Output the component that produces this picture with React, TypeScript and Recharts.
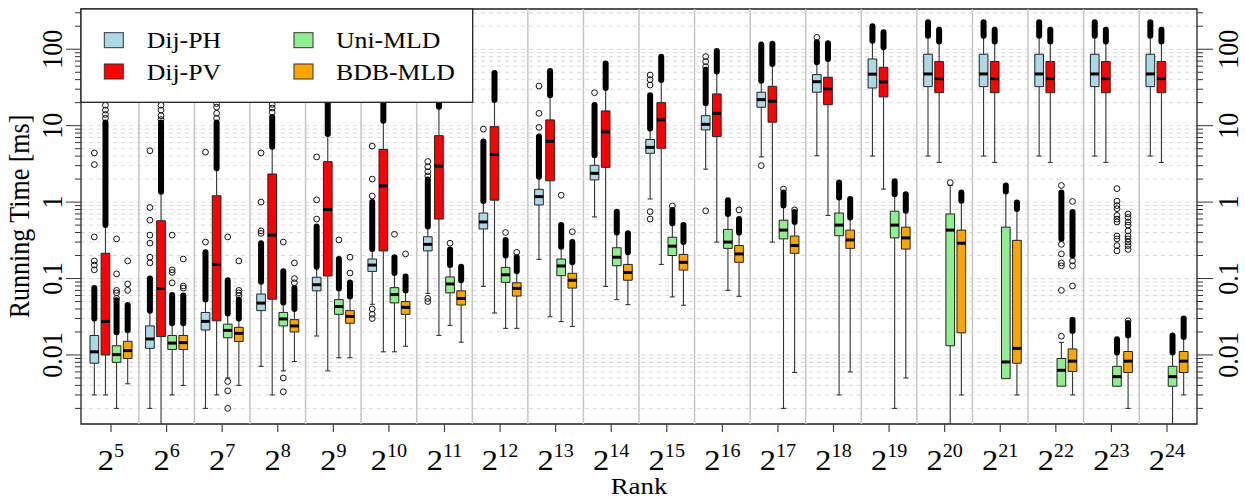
import React from 'react';
import { ComposedChart, XAxis, YAxis, CartesianGrid, ReferenceArea, ReferenceLine, Scatter } from 'recharts';

const RANKS = [5, 6, 7, 8, 9, 10, 11, 12, 13, 14, 15, 16, 17, 18, 19, 20, 21, 22, 23, 24];
const SERIES_NAMES = ['Dij-PH', 'Dij-PV', 'Uni-MLD', 'BDB-MLD'];
const SERIES_COLORS = ['#add8e6', '#ff0000', '#90ee90', '#ffa500'];

const Y_TICKS = [
  0.002, 0.003, 0.004, 0.005, 0.006, 0.007, 0.008, 0.009,
  0.01, 0.02, 0.03, 0.04, 0.05, 0.06, 0.07, 0.08, 0.09,
  0.1, 0.2, 0.3, 0.4, 0.5, 0.6, 0.7, 0.8, 0.9,
  1, 2, 3, 4, 5, 6, 7, 8, 9,
  10, 20, 30, 40, 50, 60, 70, 80, 90,
  100, 200, 300,
];
const Y_LABELS = [0.01, 0.1, 1, 10, 100];

// box stats per rank: [lower whisker, Q1, median, Q3, upper whisker] in ms
const DIJ_PH_STATS = [
  [0.003, 0.0078, 0.011, 0.018, 0.03], [0.002, 0.0122, 0.0162, 0.024, 0.038],
  [0.002, 0.0212, 0.0275, 0.036, 0.053], [0.0071, 0.038, 0.0477, 0.0627, 0.091],
  [0.0177, 0.069, 0.083, 0.104, 0.143], [0.046, 0.124, 0.15, 0.18, 0.243],
  [0.064, 0.23, 0.28, 0.352, 0.48], [0.079, 0.445, 0.55, 0.72, 1.03],
  [0.178, 0.916, 1.18, 1.47, 2.15], [0.64, 1.95, 2.38, 3.03, 4.1],
  [1.1, 4.35, 5.2, 6.6, 9.2], [2.7, 8.8, 10.4, 13.5, 19.6],
  [3.9, 17.4, 21.9, 27.4, 38.8], [4.04, 27.4, 37.6, 46.6, 67.6],
  [4.0, 31.1, 47.2, 74.6, 129], [4.0, 32.4, 47.5, 86, 150],
  [4.0, 32.4, 47.5, 86, 150], [4.0, 32.4, 47.5, 86, 150],
  [4.0, 32.4, 47.5, 86, 150], [4.0, 32.4, 47.5, 86, 150],
];
const DIJ_PV_STATS = [
  [0.003, 0.01, 0.0275, 0.214, 0.5], [0.0005, 0.0174, 0.074, 0.57, 1.37],
  [0.003, 0.028, 0.153, 1.21, 2.77], [0.003, 0.0537, 0.37, 2.33, 5.3],
  [0.0062, 0.108, 0.8, 3.38, 7.8], [0.011, 0.23, 1.63, 4.9, 11.6],
  [0.018, 0.6, 2.97, 7.4, 17.7], [0.0354, 1.06, 4.2, 9.7, 21.7],
  [0.0316, 1.9, 6.25, 11.9, 25], [0.079, 2.85, 8.3, 15.6, 31],
  [0.153, 5.06, 11.9, 20, 39.6], [0.3, 7.2, 14.5, 26, 51],
  [0.3, 11.1, 20.9, 32.7, 64], [0.67, 18.8, 30.3, 43, 74.6],
  [1.48, 23.8, 37.3, 58, 106], [3.3, 27, 41.2, 69, 126],
  [3.3, 27, 41.2, 69, 126], [3.3, 27, 41.2, 69, 126],
  [3.3, 27, 41.2, 69, 126], [3.3, 27, 41.2, 69, 126],
];
const UNI_MLD_STATS = [
  [0.002, 0.008, 0.0101, 0.0132, 0.0199], [0.003, 0.0118, 0.0143, 0.018, 0.026],
  [0.005, 0.0168, 0.021, 0.0253, 0.035], [0.0062, 0.024, 0.0296, 0.036, 0.0487],
  [0.0092, 0.034, 0.043, 0.053, 0.0743], [0.011, 0.048, 0.0617, 0.076, 0.118],
  [0.0244, 0.065, 0.085, 0.105, 0.15], [0.0223, 0.089, 0.112, 0.14, 0.2],
  [0.0273, 0.109, 0.146, 0.18, 0.26], [0.053, 0.147, 0.19, 0.253, 0.4],
  [0.0575, 0.2, 0.265, 0.347, 0.53], [0.07, 0.248, 0.3, 0.44, 0.7],
  [0.002, 0.33, 0.43, 0.58, 0.9], [0.003, 0.363, 0.5, 0.72, 1.15],
  [0.002, 0.34, 0.5, 0.76, 1.27], [0.0005, 0.0132, 0.43, 0.7, 1.65],
  [0.0049, 0.0049, 0.0081, 0.47, 1.38], [0.0039, 0.0039, 0.0063, 0.009, 0.0146],
  [0.0039, 0.0039, 0.0052, 0.0071, 0.0108], [0.0005, 0.0039, 0.0052, 0.0071, 0.0108],
];
const BDB_MLD_STATS = [
  [0.0042, 0.009, 0.0114, 0.0151, 0.021], [0.004, 0.0118, 0.0145, 0.018, 0.026],
  [0.004, 0.015, 0.0192, 0.023, 0.03], [0.0082, 0.02, 0.024, 0.029, 0.04],
  [0.0092, 0.026, 0.032, 0.038, 0.058], [0.013, 0.034, 0.042, 0.05, 0.07],
  [0.0147, 0.045, 0.0548, 0.069, 0.095], [0.0223, 0.059, 0.0744, 0.088, 0.125],
  [0.0236, 0.075, 0.095, 0.117, 0.163], [0.0455, 0.095, 0.12, 0.153, 0.22],
  [0.0447, 0.129, 0.163, 0.207, 0.3], [0.0585, 0.163, 0.21, 0.27, 0.4],
  [0.0059, 0.214, 0.27, 0.36, 0.55], [0.006, 0.248, 0.32, 0.43, 0.63],
  [0.005, 0.243, 0.34, 0.47, 0.77], [0.003, 0.0195, 0.29, 0.43, 1.04],
  [0.003, 0.0078, 0.0122, 0.316, 0.81], [0.003, 0.0061, 0.0083, 0.012, 0.0206],
  [0.002, 0.0059, 0.0083, 0.0111, 0.018], [0.003, 0.0059, 0.0083, 0.0111, 0.0172],
];

// bands where outlier circles overlap into a solid column: [from, to]
const DIJ_PH_RUNS = [
  [[0.03, 0.075]], [[0.038, 0.1]], [[0.053, 0.22]], [[0.091, 0.29]], [[0.143, 0.48]],
  [[0.243, 1.0]], [[0.48, 1.97]], [[1.03, 6.2]], [[2.15, 7.2]], [[4.1, 18.7]],
  [[9.2, 25]], [[19.6, 54]], [[38.8, 115]], [[67.6, 123]], [[129, 200]],
  [[150, 225]], [[150, 225]], [[150, 225]], [[150, 225]], [[150, 225]],
];
const DIJ_PV_RUNS = [
  [[0.5, 11]], [[1.37, 11]], [[2.77, 11]], [[5.3, 13]], [[7.8, 25]],
  [[11.6, 25]], [[17.7, 25]], [[21.7, 49]], [[25, 52]], [[31, 65]],
  [[39.6, 80]], [[51, 95]], [[64, 118]], [[74.6, 120]], [[106, 167]],
  [[126, 180]], [[126, 180]], [[126, 180]], [[126, 180]], [[126, 180]],
];
const UNI_MLD_RUNS = [
  [[0.0199, 0.052]], [[0.026, 0.061]], [[0.035, 0.095]], [[0.0487, 0.125]], [[0.0743, 0.18]],
  [[0.118, 0.19]], [[0.15, 0.24]], [[0.2, 0.32]], [[0.26, 0.5]], [[0.4, 0.75]],
  [[0.53, 0.79]], [[0.7, 1.06]], [[0.9, 1.34]], [[1.15, 1.8]], [[1.27, 1.88]],
  [], [[1.38, 1.65]], [[0.33, 1.34]], [[0.0108, 0.016]], [[0.0108, 0.018]],
];
const BDB_MLD_RUNS = [
  [[0.021, 0.045]], [[0.026, 0.06]], [[0.03, 0.053]], [[0.04, 0.075]], [[0.058, 0.089]],
  [[0.07, 0.106]], [[0.095, 0.143]], [[0.125, 0.19]], [[0.163, 0.3]], [[0.22, 0.39]],
  [[0.3, 0.5]], [[0.4, 0.6]], [[0.55, 0.74]], [[0.63, 1.1]], [[0.77, 1.27]],
  [[1.04, 1.34]], [[0.81, 0.99]], [[0.0206, 0.029], [0.2, 0.74]], [[0.018, 0.0262]], [[0.0172, 0.03]],
];

// single outliers drawn as open circles
const DIJ_PH_OUTLIERS = [
  [0.13, 0.15, 0.17, 0.35, 3.1, 4.4], [0.16, 0.19, 0.29, 0.37, 0.58, 0.85, 4.7],
  [0.3, 4.5], [0.39, 0.42, 1.0, 4.4], [0.6, 1.07, 3.9], [0.04, 0.034, 0.03, 1.2, 2.0, 5.4],
  [0.055, 0.05, 2.2, 2.5, 2.9, 3.4], [9.0], [9.5, 14.5, 33], [27],
  [0.75, 0.6, 34, 40, 46], [0.77, 59, 69, 80], [3.0], [143], [], [], [], [], [], [],
];
const DIJ_PV_OUTLIERS = [
  [12.5, 14, 16, 18.5], [12, 13.5, 16, 18.5], [12.5, 14.5, 17.5, 19.5], [15, 17, 19],
  [], [], [], [], [], [], [], [], [], [], [], [], [], [], [], [],
];
const UNI_MLD_OUTLIERS = [
  [0.055, 0.065, 0.07, 0.115, 0.33], [0.088, 0.12, 0.13, 0.37], [0.0045, 0.0034, 0.002, 0.35],
  [0.005, 0.0033, 0.3], [0.32], [0.38], [0.29], [0.4], [1.23], [], [0.89], [], [1.48],
  [], [], [1.8], [], [0.0176, 0.07, 0.147, 0.16, 0.21, 0.28, 1.65],
  [1.5, 1.03, 0.9, 0.82, 0.67, 0.6, 0.55, 0.36, 0.33, 0.27, 0.23], [],
];
const BDB_MLD_OUTLIERS = [
  [0.07, 0.085, 0.17], [0.075, 0.08, 0.18], [0.06, 0.065, 0.07, 0.17], [0.088, 0.1, 0.16],
  [0.118, 0.19], [0.21], [], [0.22], [0.41], [], [], [0.79], [0.79], [], [], [], [],
  [0.08, 0.147, 0.17, 1.02],
  [0.028, 0.7, 0.63, 0.55, 0.5, 0.42, 0.36, 0.33, 0.3, 0.27, 0.24], [],
];

const SERIES = [
  { stats: DIJ_PH_STATS, runs: DIJ_PH_RUNS, outliers: DIJ_PH_OUTLIERS, offset: -0.3 },
  { stats: DIJ_PV_STATS, runs: DIJ_PV_RUNS, outliers: DIJ_PV_OUTLIERS, offset: -0.1 },
  { stats: UNI_MLD_STATS, runs: UNI_MLD_RUNS, outliers: UNI_MLD_OUTLIERS, offset: 0.1 },
  { stats: BDB_MLD_STATS, runs: BDB_MLD_RUNS, outliers: BDB_MLD_OUTLIERS, offset: 0.3 },
];

const W = 1245;
const H = 497;
const Y_MIN = 0.00125;
const Y_MAX = 336;
const X_MIN = -0.54;
const X_MAX = 19.54;
const BOX_HALF = 0.078;
const STAPLE_HALF = 0.045;
const FONT = "'Liberation Serif', 'Times New Roman', serif";
const SX = 1.12; // the figure is slightly wider than tall, text too
const textStyle = { fontFamily: FONT };

const isDecade = (v: number) => Math.abs(Math.log10(v) - Math.round(Math.log10(v))) < 1e-9;

const LeftTick = (p: any) => {
  const v = p.payload.value;
  const major = isDecade(v);
  return (
    <g>
      <line x1={p.x - (major ? 15 : 6)} x2={p.x} y1={p.y} y2={p.y} stroke="#333" strokeWidth={1} />
      {major && Y_LABELS.includes(v) && (
        <text transform={`translate(${p.x - 19},${p.y}) scale(${SX},1) rotate(-90)`} textAnchor="middle"
          fontSize={26} style={textStyle} fill="#000">{String(v)}</text>
      )}
    </g>
  );
};

const RightTick = (p: any) => {
  const v = p.payload.value;
  const major = isDecade(v);
  return (
    <g>
      <line x1={p.x} x2={p.x + (major ? 16 : 6)} y1={p.y} y2={p.y} stroke="#333" strokeWidth={1} />
      {major && Y_LABELS.includes(v) && (
        <text transform={`translate(${p.x + 41},${p.y}) scale(${SX},1) rotate(-90)`} textAnchor="middle"
          fontSize={26} style={textStyle} fill="#000">{String(v)}</text>
      )}
    </g>
  );
};

const RankTick = (p: any) => {
  const r = RANKS[p.payload.value];
  return (
    <g>
      <line x1={p.x} x2={p.x} y1={p.y} y2={p.y + 8} stroke="#444" strokeWidth={1.2} />
      <text transform={`translate(${p.x},${p.y + 46}) scale(${SX},1)`} textAnchor="middle" style={textStyle} fill="#000">
        <tspan fontSize={29}>2</tspan>
        <tspan fontSize={18} dy={-13}>{r}</tspan>
      </text>
    </g>
  );
};

function Legend() {
  const items = [
    { x: 104.3, y: 32.7, tx: 146.7, ty: 48.3 },
    { x: 104.3, y: 64, tx: 146.7, ty: 80 },
    { x: 294, y: 32.7, tx: 336, ty: 48.3 },
    { x: 294, y: 64, tx: 336, ty: 80 },
  ];
  return (
    <svg width={W} height={H} style={{ position: 'absolute', left: 0, top: 0, pointerEvents: 'none' }}>
      <rect x={81} y={9} width={391.7} height={93.3} fill="#fff" stroke="#222" strokeWidth={1.3} />
      {items.map((it, i) => (
        <g key={i}>
          <rect x={it.x} y={it.y} width={19} height={15} fill={SERIES_COLORS[i]} stroke="#333" strokeWidth={1} />
          <text transform={`translate(${it.tx},${it.ty}) scale(${SX},1)`} fontSize={23} style={textStyle} fill="#000">
            {SERIES_NAMES[i]}
          </text>
        </g>
      ))}
    </svg>
  );
}

export default function App() {
  const separators = RANKS.slice(0, -1).map((_, gi) => (
    <ReferenceLine key={`sep${gi}`} x={gi + 0.5} stroke="#c6c6c6" strokeWidth={1.5} ifOverflow="hidden" />
  ));

  const whiskers: React.ReactNode[] = [];
  const runs: React.ReactNode[] = [];
  const boxes: React.ReactNode[] = [];
  const medians: React.ReactNode[] = [];

  SERIES.forEach((s, si) => {
    s.stats.forEach(([lo, q1, med, q3, hi], gi) => {
      const x = gi + s.offset;
      const k = `${si}-${gi}`;
      if (lo < q1) {
        whiskers.push(
          <ReferenceLine key={`wl${k}`} segment={[{ x, y: lo }, { x, y: q1 }]} stroke="#333" strokeWidth={1.1} ifOverflow="hidden" />
        );
        if (lo > Y_MIN) {
          whiskers.push(
            <ReferenceLine key={`sl${k}`} segment={[{ x: x - STAPLE_HALF, y: lo }, { x: x + STAPLE_HALF, y: lo }]} stroke="#333" strokeWidth={1.1} ifOverflow="hidden" />
          );
        }
      }
      whiskers.push(
        <ReferenceLine key={`wh${k}`} segment={[{ x, y: q3 }, { x, y: hi }]} stroke="#333" strokeWidth={1.1} ifOverflow="hidden" />,
        <ReferenceLine key={`sh${k}`} segment={[{ x: x - STAPLE_HALF, y: hi }, { x: x + STAPLE_HALF, y: hi }]} stroke="#333" strokeWidth={1.1} ifOverflow="hidden" />
      );
      s.runs[gi].forEach(([a, b], ri) => {
        runs.push(
          <ReferenceLine key={`r${k}-${ri}`} segment={[{ x, y: a }, { x, y: b }]} stroke="#000" strokeWidth={6} strokeLinecap="round" ifOverflow="hidden" />
        );
      });
      boxes.push(
        <ReferenceArea key={`b${k}`} x1={x - BOX_HALF} x2={x + BOX_HALF} y1={q1} y2={q3}
          fill={SERIES_COLORS[si]} fillOpacity={1} stroke="#222" strokeWidth={1} ifOverflow="hidden" />
      );
      medians.push(
        <ReferenceLine key={`m${k}`} segment={[{ x: x - BOX_HALF, y: med }, { x: x + BOX_HALF, y: med }]} stroke="#000" strokeWidth={3} ifOverflow="hidden" />
      );
    });
  });

  const outlierData = SERIES.map((s) =>
    s.outliers.flatMap((vals, gi) => vals.map((v) => ({ x: gi + s.offset, y: v })))
  );

  return (
    <div style={{ position: 'relative', width: W, height: H, background: '#fff' }}>
      <style>{'body{margin:0;background:#fff}'}</style>
      <ComposedChart width={W} height={H} margin={{ top: 9, right: 0, bottom: 0, left: 0 }}>
        <CartesianGrid vertical={false} stroke="#d8d8d8" strokeDasharray="4 4" />
        <XAxis dataKey="x" type="number" domain={[X_MIN, X_MAX]} allowDataOverflow height={73}
          ticks={RANKS.map((_, i) => i)} interval={0} tick={<RankTick />} tickLine={false} axisLine={false}
          tickSize={0} tickMargin={0} />
        <YAxis dataKey="y" type="number" scale="log" domain={[Y_MIN, Y_MAX]} allowDataOverflow width={81}
          ticks={Y_TICKS} interval={0} tick={<LeftTick />} tickLine={false} axisLine={false} tickSize={0} tickMargin={0} />
        <YAxis yAxisId="r" orientation="right" type="number" scale="log" domain={[Y_MIN, Y_MAX]} allowDataOverflow width={48}
          ticks={Y_TICKS} interval={0} tick={<RightTick />} tickLine={false} axisLine={false} tickSize={0} tickMargin={0} />
        {separators}
        {whiskers}
        {runs}
        {boxes}
        {medians}
        {outlierData.map((d, si) => (
          <Scatter key={`o${si}`} name={SERIES_NAMES[si]} data={d} isAnimationActive={false}
            shape={(p: any) => <circle cx={p.cx} cy={p.cy} r={2.9} fill="none" stroke="#111" strokeWidth={1} />} />
        ))}
        <ReferenceArea x1={X_MIN} x2={X_MAX} y1={Y_MIN} y2={Y_MAX} fill="none" fillOpacity={0} stroke="#222" strokeWidth={1.3} ifOverflow="visible" />
      </ComposedChart>
      <Legend />
      <svg width={W} height={H} style={{ position: 'absolute', left: 0, top: 0, pointerEvents: 'none' }}>
        <text transform={`translate(29,216.5) scale(${SX},1) rotate(-90)`} textAnchor="middle" fontSize={26} style={textStyle} fill="#000">
          Running Time [ms]
        </text>
        <text transform={`translate(639,494) scale(${SX},1)`} textAnchor="middle" fontSize={24} style={textStyle} fill="#000">
          Rank
        </text>
      </svg>
    </div>
  );
}
